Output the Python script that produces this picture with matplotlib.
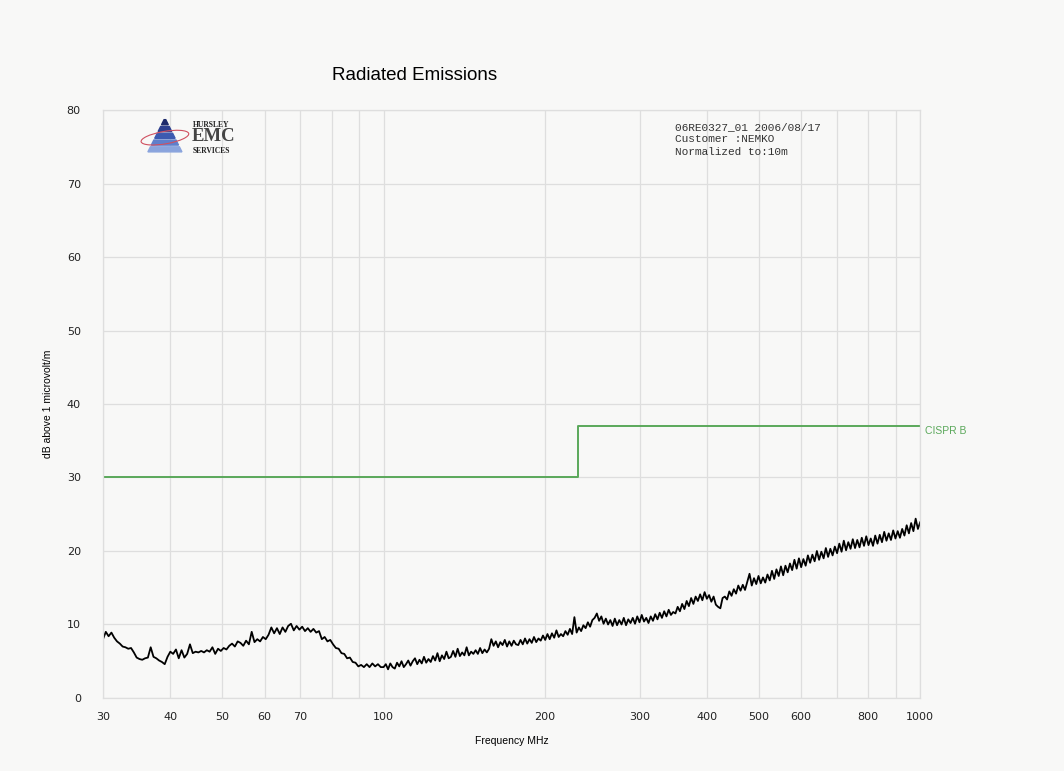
import numpy as np
import matplotlib
matplotlib.use("Agg")
import matplotlib.pyplot as plt
from matplotlib.patches import Polygon, Ellipse

# Messwerte (dB above 1 microvolt/m), 30-100 MHz
low_band = [
    8.0, 9.0, 8.4, 8.9, 8.2, 7.7, 7.4, 7.0, 6.9, 6.7,
    6.8, 6.2, 5.5, 5.3, 5.2, 5.4, 5.5, 6.9, 5.6, 5.4,
    5.1, 4.9, 4.6, 5.6, 6.3, 6.0, 6.6, 5.4, 6.5, 5.5,
    6.0, 7.3, 6.1, 6.3, 6.2, 6.4, 6.2, 6.5, 6.3, 6.9,
    6.0, 6.7, 6.4, 6.8, 6.6, 7.1, 7.4, 7.0, 7.7, 7.5,
    7.1, 7.8, 7.3, 9.0, 7.6, 8.0, 7.7, 8.3, 8.0, 8.6,
    9.6, 8.8, 9.5, 8.7, 9.6, 9.0, 9.8, 10.1, 9.2, 9.8,
    9.3, 9.7, 9.1, 9.5, 9.0, 9.4, 8.9, 9.1, 8.0, 8.3,
    7.7, 7.9, 7.3, 6.8, 6.7, 6.1, 6.0, 5.4, 5.5, 4.9,
    4.8, 4.3, 4.5, 4.2, 4.6, 4.2, 4.7, 4.3, 4.6, 4.2,
]

# 100-1000 MHz
high_band = [
    4.2, 4.6, 3.9, 4.7, 4.2, 4.0, 4.8, 4.3, 5.0, 4.2,
    4.6, 5.1, 4.4, 5.0, 5.4, 4.6, 5.2, 4.7, 5.6, 4.8,
    5.3, 4.9, 5.7, 5.1, 6.1, 5.0, 5.8, 5.3, 6.3, 5.4,
    5.6, 6.4, 5.6, 6.7, 5.7, 6.2, 5.8, 6.9, 5.8, 6.3,
    6.0, 6.5, 6.0, 6.8, 6.1, 6.6, 6.2, 6.7, 8.0, 7.1,
    7.7, 6.9, 7.6, 7.2, 7.9, 7.0, 7.7, 7.1, 7.8, 7.3,
    7.2, 7.9, 7.3, 8.1, 7.4, 8.0, 7.5, 8.3, 7.6, 8.1,
    7.8, 8.5, 7.9, 8.7, 8.0, 8.8, 8.2, 9.2, 8.3, 8.7,
    8.4, 9.1, 8.6, 9.4, 8.7, 11.0, 8.9, 9.6, 9.1, 9.9,
    9.5, 10.3, 9.7, 10.6, 10.9, 11.5, 10.5, 11.1, 10.1, 10.8,
    10.0, 10.6, 9.8, 10.8, 9.9, 10.6, 10.0, 10.9, 9.9, 10.7,
    10.2, 10.9, 10.1, 11.1, 10.3, 11.3, 10.4, 10.9, 10.2, 11.1,
    10.5, 11.4, 10.7, 11.6, 10.9, 11.8, 11.1, 12.0, 11.3, 11.7,
    11.5, 12.4, 11.8, 12.8, 12.1, 13.2, 12.5, 13.6, 12.8, 13.8,
    13.2, 14.1, 13.3, 14.4, 13.5, 14.0, 13.1, 13.8, 12.7, 12.4,
    12.2, 13.6, 13.8, 13.4, 14.5, 13.9, 14.8, 14.2, 15.3, 14.6,
    15.4, 14.7, 15.8, 16.9, 15.3, 16.3, 15.5, 16.6, 15.6, 16.4,
    15.7, 16.8, 16.0, 17.3, 16.2, 17.5, 16.6, 17.9, 16.7, 18.0,
    17.1, 18.3, 17.4, 18.8, 17.6, 19.0, 17.8, 18.9, 18.0, 19.4,
    18.4, 19.5, 18.6, 20.0, 18.8, 19.9, 19.0, 20.4, 19.2, 20.3,
    19.4, 20.6, 19.7, 21.0, 19.9, 21.4, 20.1, 21.2, 20.3, 21.6,
    20.4, 21.5, 20.5, 21.8, 20.7, 22.0, 20.8, 21.7, 20.7, 22.1,
    21.0, 22.2, 21.2, 22.6, 21.4, 22.4, 21.5, 22.8, 21.7, 22.7,
    21.8, 23.0, 22.1, 23.5, 22.4, 23.8, 22.7, 24.4, 23.0, 23.9,
]

# Grenzwert CISPR B
limit_freq = [30, 230, 1000]
limit_db = [30, 37, 37]

x_ticks = [30, 40, 50, 60, 70, 100, 200, 300, 400, 500, 600, 800, 1000]
x_grid = [30, 40, 50, 60, 70, 80, 90, 100, 200, 300, 400, 500, 600, 700, 800, 900, 1000]
y_ticks = [0, 10, 20, 30, 40, 50, 60, 70, 80]

bg = '#f8f8f7'
grid_col = '#dedede'
green = '#5aa85a'

freq = np.concatenate([np.geomspace(30, 100, len(low_band), endpoint=False),
                       np.geomspace(100, 1000, len(high_band))])
level = np.array(low_band + high_band)

fig = plt.figure(figsize=(10.64, 7.71), dpi=100, facecolor=bg)
ax = fig.add_axes([0.0968, 0.0947, 0.768, 0.7626], facecolor=bg)

ax.set_xscale('log')
ax.set_xlim(30, 1000)
ax.set_ylim(0, 80)

ax.set_xticks(x_grid, minor=True)
ax.set_xticks(x_ticks)
ax.set_xticklabels([str(t) for t in x_ticks])
ax.xaxis.set_minor_formatter(matplotlib.ticker.NullFormatter())
ax.set_yticks(y_ticks)
ax.grid(True, which='both', axis='x', color=grid_col, lw=0.9)
ax.grid(True, which='major', axis='y', color=grid_col, lw=0.9)
ax.tick_params(which='both', length=0, labelsize=8, colors='#222222')
ax.tick_params(axis='x', pad=10)
ax.tick_params(axis='y', pad=16)
for s in ax.spines.values():
    s.set_color(grid_col)
    s.set_linewidth(0.9)

# Messkurve und Grenzwert
ax.plot(freq, level, color='black', lw=1.3)
ax.step(limit_freq, limit_db, where='post', color=green, lw=1.4)
ax.text(1020, 36.3, 'CISPR B', color=green, fontsize=7.5, va='center', ha='left',
        family='Liberation Sans')

ax.set_xlabel('Frequency MHz', fontsize=7.5, labelpad=10, family='Liberation Sans')
ax.set_ylabel('dB above 1 microvolt/m', fontsize=7.5, labelpad=10, family='Liberation Sans')

fig.text(0.39, 0.902, 'Radiated Emissions', fontsize=13.5, ha='center', va='center',
         family='Liberation Sans')

fig.text(0.634, 0.842, '06RE0327_01 2006/08/17\nCustomer :NEMKO\nNormalized to:10m',
         fontsize=8, family='Liberation Mono', va='top', ha='left',
         linespacing=1.3, color='#333333')

# Logo
tri_x, tri_y, tri_w, tri_h = 0.139, 0.803, 0.032, 0.044
stripe_cols = ['#8aa4dd', '#5f7fcb', '#3c5ab0', '#2d3f8f', '#1d2a6b']
n = len(stripe_cols)
for i, c in enumerate(stripe_cols):
    y0 = tri_y + tri_h * i / n
    y1 = tri_y + tri_h * (i + 0.75) / n
    w0 = tri_w * (1 - i / n) / 2
    w1 = tri_w * (1 - (i + 0.75) / n) / 2
    cx = tri_x + tri_w / 2
    fig.patches.append(Polygon([[cx - w0, y0], [cx + w0, y0], [cx + w1, y1], [cx - w1, y1]],
                               closed=True, transform=fig.transFigure, color=c))
fig.patches.append(Ellipse((tri_x + tri_w / 2, tri_y + tri_h * 0.42), 0.046, 0.016, angle=14,
                           transform=fig.transFigure, fill=False, ec='#d05060', lw=0.8))
fig.text(0.1815, 0.8380, 'HURSLEY', fontsize=5.5, family='Liberation Serif', weight='bold',
         va='center', color='#222222')
fig.text(0.1805, 0.8225, 'EMC', fontsize=13.5, family='Liberation Serif', weight='bold',
         va='center', color='#444444')
fig.text(0.1815, 0.8045, 'SERVICES', fontsize=5.5, family='Liberation Serif', weight='bold',
         va='center', color='#222222')

fig.savefig('out.png', dpi=100, facecolor=bg)
